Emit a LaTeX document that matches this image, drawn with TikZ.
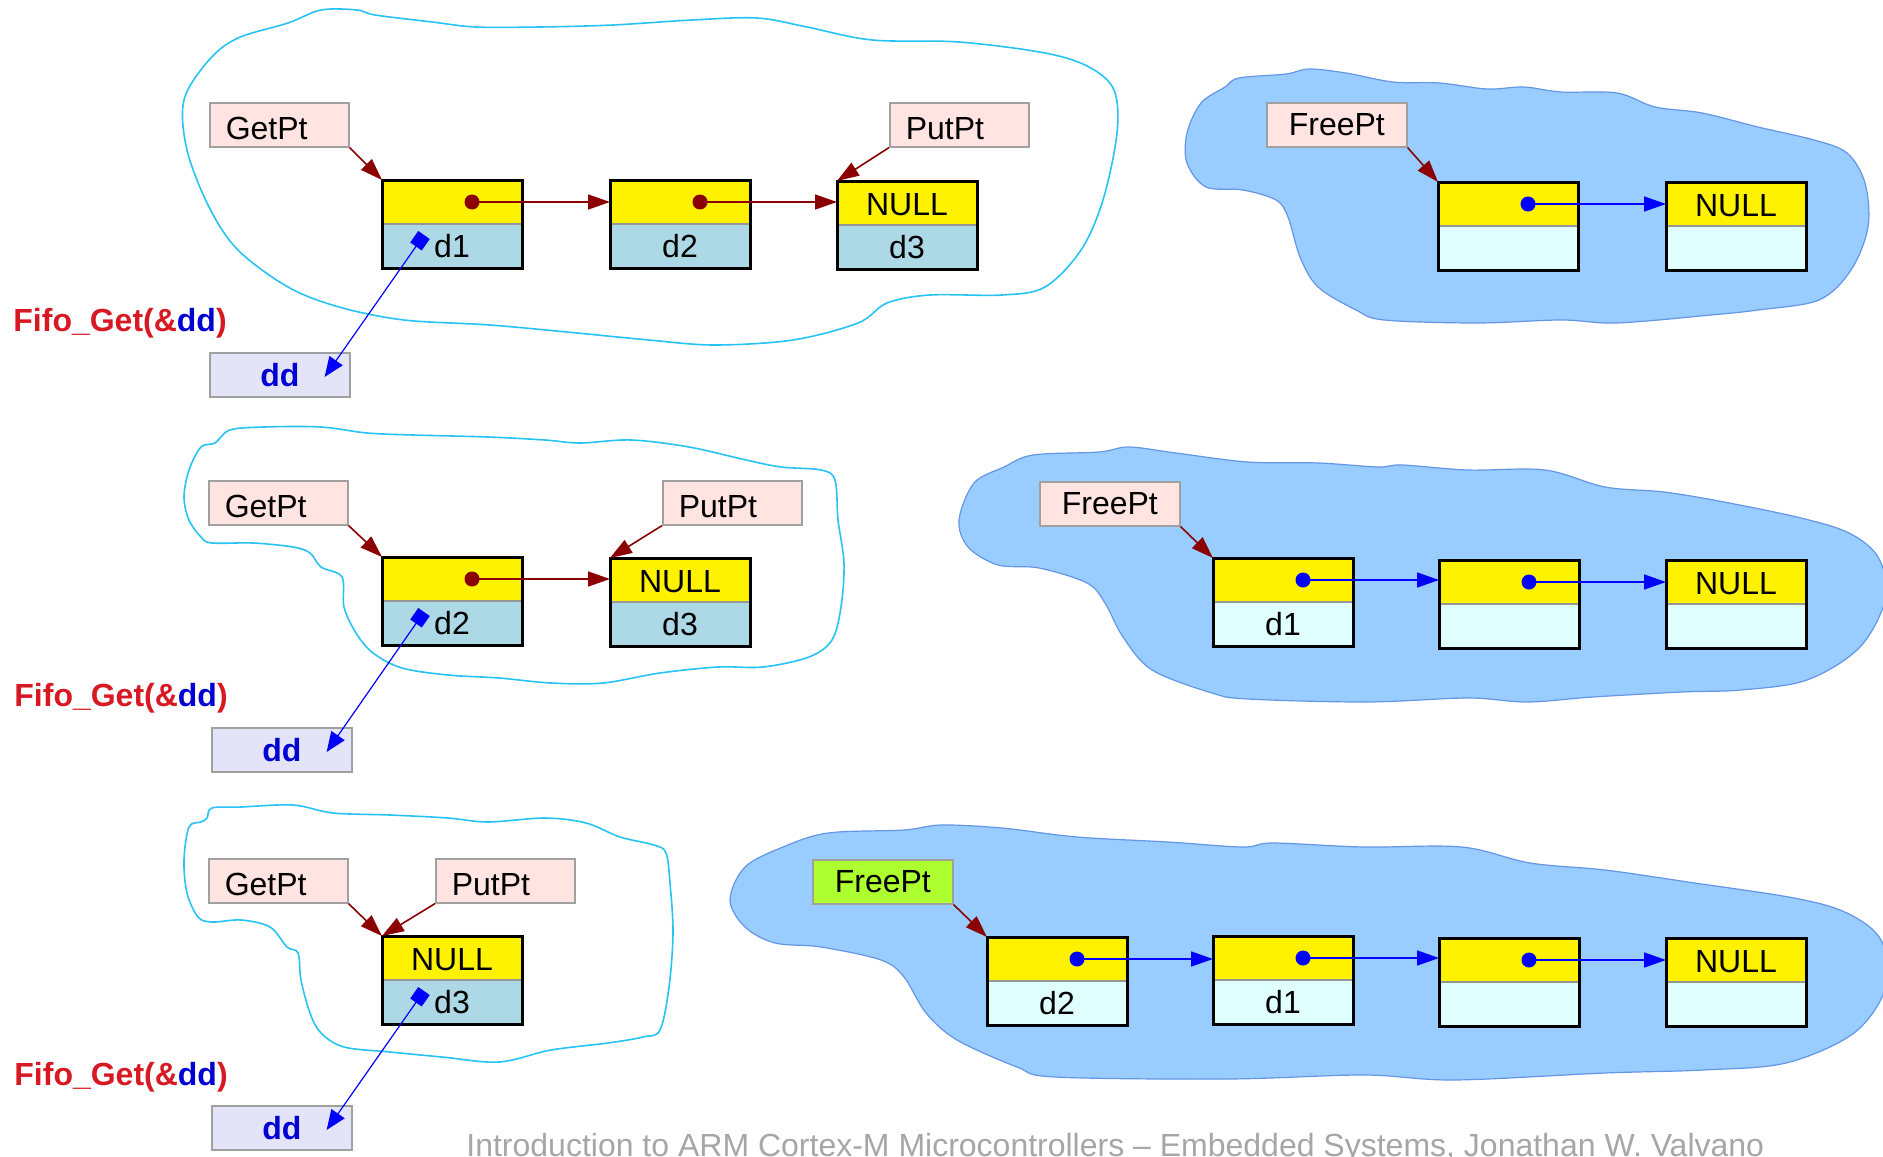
\documentclass[tikz,border=0pt]{standalone}
\usepackage{fontspec}
\setmainfont{Liberation Sans}
\usetikzlibrary{arrows.meta,calc}
\definecolor{boxgray}{RGB}{160,160,160}
\definecolor{pinkfill}{RGB}{255,228,225}
\definecolor{ddfill}{RGB}{228,228,248}
\definecolor{ddblue}{RGB}{0,0,210}
\definecolor{fifored}{RGB}{215,25,35}
\definecolor{lblue}{RGB}{173,216,230}
\definecolor{lcyan}{RGB}{224,255,255}
\definecolor{divgray}{RGB}{150,150,150}
\definecolor{darkred}{RGB}{139,0,0}
\definecolor{cloudcyan}{RGB}{40,195,245}
\definecolor{cloudfill}{RGB}{153,204,255}
\definecolor{cloudedge}{RGB}{100,150,230}
\definecolor{greenfill}{RGB}{173,255,47}
\definecolor{footgray}{RGB}{166,166,166}
\newcommand\listcell[6]{%
  \node[toppart] (#1) at (#2,#3) {#4};
  \node[botpart, fill=#6] (#1b) at (#1.south) {#5};
  \draw[divider] (#1.south west) -- (#1.south east);
  \draw[nodeframe] (#1.north west) rectangle (#1b.south east);
}
\begin{document}
\begin{tikzpicture}[x=0.5pt,y=-0.5pt,
  lbl/.style={font=\fontsize{16pt}{19pt}\selectfont},
  ptbox/.style={draw=boxgray, fill=pinkfill, line width=0.8pt, minimum height=22pt, text width=53.5pt, text height=15pt, text depth=0pt, inner xsep=8pt, inner ysep=0pt, align=left, lbl, anchor=north west},
  freebox/.style={draw=boxgray, fill=pinkfill, line width=0.8pt, minimum height=22pt, minimum width=70pt, inner sep=0pt, lbl, anchor=north west},
  ddbox/.style={draw=boxgray, fill=ddfill, line width=0.8pt, minimum height=22pt, minimum width=70pt, inner sep=0pt, font=\fontsize{16pt}{19pt}\selectfont\bfseries, text=ddblue, anchor=north west},
  toppart/.style={fill=yellow, minimum width=70pt, minimum height=22pt, text height=12.5pt, text depth=0pt, inner sep=0pt, outer sep=0pt, lbl, anchor=north west},
  botpart/.style={minimum width=70pt, minimum height=22pt, inner sep=0pt, outer sep=0pt, lbl, anchor=north},
  nodeframe/.style={draw=black, line width=1.5pt},
  divider/.style={draw=divgray, line width=0.6pt},
  rdot/.style={circle, fill=darkred, minimum size=7.5pt, inner sep=0pt},
  bdot/.style={circle, fill=blue, minimum size=7.5pt, inner sep=0pt},
  redarr/.style={draw=darkred, line width=0.8pt, -{Triangle[length=11pt,width=7.5pt]}},
  bluearr/.style={draw=blue, line width=0.8pt, -{Triangle[length=11pt,width=7.5pt]}},
  ddarr/.style={draw=blue, line width=0.6pt, {Square[length=7pt]}-{Triangle[length=10pt,width=8pt]}},
  cyancloud/.style={draw=cloudcyan, line width=0.8pt},
  bluecloud/.style={draw=cloudedge, fill=cloudfill, line width=0.6pt},
  fifo/.style={font=\fontsize{16pt}{19pt}\selectfont\bfseries, text=fifored, inner sep=0pt, anchor=base west}
]
\useasboundingbox (0,0) rectangle (1883,1156);

% ---------- clouds ----------
\draw[cyancloud] plot[smooth cycle, tension=0.55] coordinates {(321,10) (357,10) (375,15) (432,22) (476,27) (540,27) (613,25) (692,20) (757,18) (807,27) (872,40) (959,42) (1045,53) (1089,67) (1114,90) (1117,133) (1103,200) (1081,250) (1045,287) (1002,295) (930,295) (887,303) (858,323) (793,340) (714,345) (649,340) (577,333) (490,325) (404,320) (339,307) (288,287) (238,250) (209,207) (187,150) (184,100) (209,60) (238,38) (288,23)};
\draw[cyancloud] plot[smooth cycle, tension=0.55] coordinates {(215,443) (230,430) (264,427) (321,427) (367,433) (413,435) (488,437) (545,440) (580,443) (631,440) (689,447) (746,460) (781,467) (821,470) (835,480) (838,520) (844,563) (841,607) (832,640) (809,657) (763,667) (718,667) (660,673) (603,683) (551,683) (499,678) (448,675) (402,668) (373,653) (356,633) (344,607) (342,577) (321,567) (310,553) (293,547) (253,543) (212,543) (201,537) (189,520) (184,497) (189,470) (201,447)};
\draw[cyancloud] plot[smooth cycle, tension=0.55] coordinates {(207,818) (212,808) (241,807) (293,805) (333,813) (390,815) (448,818) (488,822) (545,818) (586,823) (620,837) (654,845) (666,853) (670,883) (673,933) (669,987) (660,1030) (643,1037) (608,1043) (551,1050) (499,1062) (442,1057) (390,1052) (344,1047) (321,1033) (310,1013) (301,980) (298,953) (287,947) (270,927) (241,920) (212,922) (198,917) (187,893) (184,860) (189,827) (201,822)};
\draw[bluecloud] plot[smooth cycle, tension=0.55] coordinates {(1239,78) (1286,74) (1309,69) (1346,73) (1393,82) (1440,83) (1487,89) (1524,87) (1561,92) (1617,93) (1655,107) (1702,113) (1758,127) (1814,140) (1847,153) (1865,183) (1868,227) (1851,270) (1819,300) (1758,310) (1711,315) (1617,323) (1561,320) (1477,323) (1384,320) (1356,310) (1318,287) (1300,257) (1288,217) (1276,200) (1243,190) (1206,187) (1187,163) (1187,133) (1201,103) (1225,87)};
\draw[bluecloud] plot[smooth cycle, tension=0.55] coordinates {(1033,455) (1099,452) (1129,447) (1176,453) (1248,462) (1319,463) (1378,467) (1402,465) (1468,470) (1545,470) (1605,487) (1664,492) (1724,502) (1801,518) (1849,533) (1878,557) (1886,597) (1860,647) (1807,680) (1741,690) (1682,692) (1593,697) (1527,702) (1468,698) (1367,702) (1248,699) (1212,693) (1152,670) (1123,637) (1105,603) (1087,583) (1039,568) (998,565) (968,547) (959,520) (974,483) (1004,467)};
\draw[bluecloud] plot[smooth cycle, tension=0.55] coordinates {(828,833) (904,830) (941,825) (1002,828) (1077,837) (1168,842) (1243,847) (1273,843) (1364,847) (1462,847) (1530,863) (1605,870) (1688,882) (1794,898) (1847,913) (1881,940) (1886,987) (1854,1033) (1786,1063) (1703,1070) (1605,1073) (1454,1080) (1364,1075) (1228,1079) (1055,1077) (1017,1067) (957,1040) (926,1013) (904,977) (881,960) (821,947) (775,943) (745,927) (730,900) (745,867) (783,847)};

% ---------- left panel 1 ----------
\node[ptbox] (g1) at (209,102) {GetPt};
\node[ptbox] (p1) at (889,102) {PutPt};
\node[ddbox] (dd1) at (209,352) {dd};
\node[fifo] (f1) at (13,331) {Fifo\_Get(\&\textcolor{ddblue}{dd})};
\listcell{a1}{382}{180}{}{d1}{lblue}
\listcell{a2}{610}{180}{}{d2}{lblue}
\listcell{a3}{837}{181}{NULL}{d3}{lblue}
\node[rdot] (a1p) at ($(a1.center)+(20,0)$) {};
\node[rdot] (a2p) at ($(a2.center)+(20,0)$) {};
\draw[redarr] (a1p.center) -- (a1p.center -| a2.west);
\draw[redarr] (a2p.center) -- (a2p.center -| a3.west);
\draw[redarr] (g1.south east) -- (a1.north west);
\draw[redarr] (p1.south west) -- (a3.north west);
\draw[ddarr] ($(a1b.north west)+(42,11)$) -- ($(dd1.north east)+(-26,25)$);

% ---------- left panel 2 ----------
\node[ptbox] (g2) at (208,480) {GetPt};
\node[ptbox] (p2) at (662,480) {PutPt};
\node[ddbox] (dd2) at (211,727) {dd};
\node[fifo] (f2) at (14,706) {Fifo\_Get(\&\textcolor{ddblue}{dd})};
\listcell{b1}{382}{557}{}{d2}{lblue}
\listcell{b2}{610}{558}{NULL}{d3}{lblue}
\node[rdot] (b1p) at ($(b1.center)+(20,0)$) {};
\draw[redarr] (b1p.center) -- (b1p.center -| b2.west);
\draw[redarr] (g2.south east) -- (b1.north west);
\draw[redarr] (p2.south west) -- (b2.north west);
\draw[ddarr] ($(b1b.north west)+(42,11)$) -- ($(dd2.north east)+(-26,25)$);

% ---------- left panel 3 ----------
\node[ptbox] (g3) at (208,858) {GetPt};
\node[ptbox] (p3) at (435,858) {PutPt};
\node[ddbox] (dd3) at (211,1105) {dd};
\node[fifo] (f3) at (14,1085) {Fifo\_Get(\&\textcolor{ddblue}{dd})};
\listcell{c1}{382}{936}{NULL}{d3}{lblue}
\draw[redarr] (g3.south east) -- (c1.north west);
\draw[redarr] (p3.south west) -- (c1.north west);
\draw[ddarr] ($(c1b.north west)+(42,11)$) -- ($(dd3.north east)+(-26,25)$);

% ---------- right panel 1 ----------
\node[freebox] (fr1) at (1266,102) {FreePt};
\listcell{r11}{1438}{182}{}{}{lcyan}
\listcell{r12}{1666}{182}{NULL}{}{lcyan}
\node[bdot] (r11p) at ($(r11.center)+(20,0)$) {};
\draw[bluearr] (r11p.center) -- (r11p.center -| r12.west);
\draw[redarr] (fr1.south east) -- (r11.north west);

% ---------- right panel 2 ----------
\node[freebox] (fr2) at (1039,481) {FreePt};
\listcell{r21}{1213}{558}{}{d1}{lcyan}
\listcell{r22}{1439}{560}{}{}{lcyan}
\listcell{r23}{1666}{560}{NULL}{}{lcyan}
\node[bdot] (r21p) at ($(r21.center)+(20,0)$) {};
\node[bdot] (r22p) at ($(r22.center)+(20,0)$) {};
\draw[bluearr] (r21p.center) -- (r21p.center -| r22.west);
\draw[bluearr] (r22p.center) -- (r22p.center -| r23.west);
\draw[redarr] (fr2.south east) -- (r21.north west);

% ---------- right panel 3 ----------
\node[freebox, fill=greenfill] (fr3) at (812,859) {FreePt};
\listcell{r31}{987}{937}{}{d2}{lcyan}
\listcell{r32}{1213}{936}{}{d1}{lcyan}
\listcell{r33}{1439}{938}{}{}{lcyan}
\listcell{r34}{1666}{938}{NULL}{}{lcyan}
\node[bdot] (r31p) at ($(r31.center)+(20,0)$) {};
\node[bdot] (r32p) at ($(r32.center)+(20,0)$) {};
\node[bdot] (r33p) at ($(r33.center)+(20,0)$) {};
\draw[bluearr] (r31p.center) -- (r31p.center -| r32.west);
\draw[bluearr] (r32p.center) -- (r32p.center -| r33.west);
\draw[bluearr] (r33p.center) -- (r33p.center -| r34.west);
\draw[redarr] (fr3.south east) -- (r31.north west);

% ---------- footer ----------
\node[lbl, text=footgray, inner sep=0pt, anchor=base west] (foot) at (466,1156) {Introduction to ARM Cortex-M Microcontrollers – Embedded Systems, Jonathan W. Valvano};
\end{tikzpicture}
\end{document}
